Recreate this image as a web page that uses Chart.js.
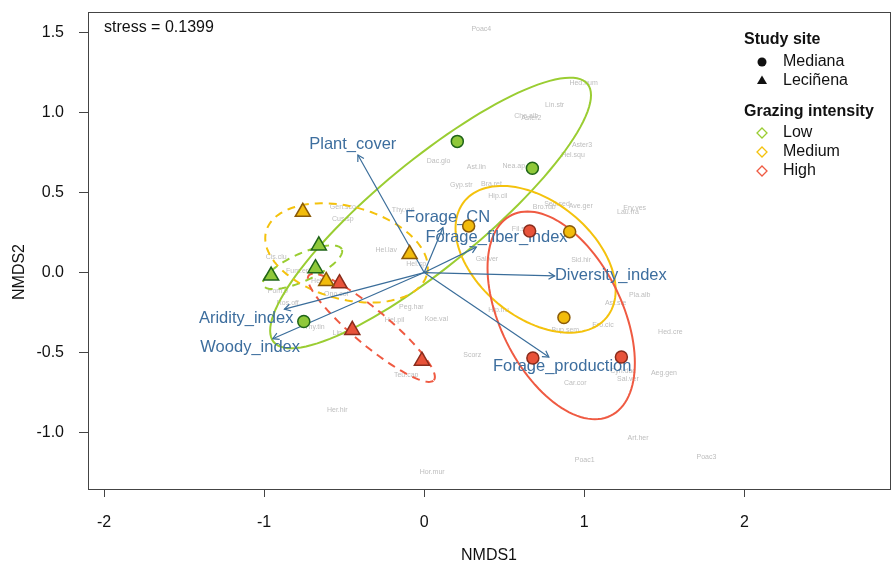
<!DOCTYPE html>
<html>
<head>
<meta charset="utf-8">
<script src="https://cdn.jsdelivr.net/npm/chart.js@4.4.1/dist/chart.umd.min.js"></script>
<style>
  body { margin: 0; background: #fff; }
</style>
</head>
<body>
<canvas id="nmds" width="892" height="569"></canvas>
<script>
"use strict";

// axis ticks
var xTicks = [-2, -1, 0, 1, 2];
var yTicks = [-1.0, -0.5, 0.0, 0.5, 1.0, 1.5];

// site scores [NMDS1, NMDS2], by grazing intensity and study site
var lowMediana = [[0.207, 0.821], [0.676, 0.653], [-0.752, -0.306]];
var lowLecinena = [[-0.658, 0.169], [-0.679, 0.026], [-0.956, -0.020]];
var medMediana = [[0.278, 0.292], [0.909, 0.256], [0.873, -0.281]];
var medLecinena = [[-0.758, 0.379], [-0.091, 0.115], [-0.612, -0.054]];
var highMediana = [[0.659, 0.260], [0.679, -0.535], [1.232, -0.529]];
var highLecinena = [[-0.529, -0.068], [-0.449, -0.360], [-0.014, -0.553]];

// dispersion ellipses: [centre x, centre y, semi-axis a, semi-axis b, angle deg]
var ellLowMediana = [0.04, 0.373, 1.27, 0.33, 39.5];
var ellLowLecinena = [-0.76, 0.033, 0.27, 0.085, 24.7];
var ellMedMediana = [0.696, 0.083, 0.574, 0.363, -39.3];
var ellMedLecinena = [-0.485, 0.123, 0.52, 0.29, -15];
var ellHighMediana = [0.856, -0.268, 0.70, 0.38, -63.8];
var ellHighLecinena = [-0.33, -0.346, 0.51, 0.11, -40];

// fitted environmental vectors (envfit)
var vectorNames = ["Plant_cover", "Forage_CN", "Forage_fiber_index", "Diversity_index",
    "Forage_production", "Aridity_index", "Woody_index"];
var vectorX = [-0.414, 0.117, 0.326, 0.815, 0.779, -0.873, -0.946];
var vectorY = [0.736, 0.281, 0.159, -0.021, -0.529, -0.229, -0.414];
var vectorLabelX = [-0.446, 0.146, 0.452, 1.166, 0.862, -1.112, -1.087];
var vectorLabelY = [0.804, 0.347, 0.217, -0.021, -0.588, -0.285, -0.466];

// species scores
var speciesNames = ["Poac4", "Hed.hum", "Lin.str", "Che.alb", "Aster2", "Aster3", "Hel.squ",
    "Dac.glo", "Ast.lin", "Nea.ap", "Gen.sco", "Cus.sp", "Thy.vul", "Gyp.str", "Cis.clu",
    "Hel.lav", "Fum.eri", "Hel.sp", "Hel.hir", "Pom.p", "Ono.col", "Ros.off", "Peg.har",
    "Koe.val", "Hel.pil", "Thy.tin", "Bra.ret", "Hip.cil", "Bro.rub", "Sed.sed", "Ave.ger",
    "Ery.ves", "Lau.fra", "Fil.sp", "Gal.ver", "Sid.hir", "Pla.alb", "Ast.ste", "Hip.fru",
    "Ero.cic", "Bup.sem", "Hed.cre", "Scorz", "Cyn.dac", "Sal.ver", "Aeg.gen", "Car.cor",
    "Art.her", "Poac1", "Poac3", "Lin.suf", "Teu.cap", "Her.hir", "Hor.mur"];
var speciesX = [0.357, 0.996, 0.815, 0.638, 0.669, 0.986, 0.930,
    0.090, 0.326, 0.560, -0.508, -0.508, -0.133, 0.232, -0.924,
    -0.237, -0.789, -0.050, -0.643, -0.914, -0.550, -0.852, -0.080,
    0.076, -0.185, -0.685, 0.420, 0.460, 0.750, 0.830, 0.978,
    1.315, 1.273, 0.600, 0.392, 0.980, 1.346, 1.196, 0.465,
    1.117, 0.882, 1.538, 0.300, 1.242, 1.273, 1.498, 0.944,
    1.336, 1.003, 1.763, -0.508, -0.112, -0.543, 0.050];
var speciesY = [1.523, 1.184, 1.050, 0.979, 0.965, 0.796, 0.734,
    0.700, 0.659, 0.667, 0.413, 0.336, 0.392, 0.548, 0.096,
    0.142, 0.011, 0.055, -0.056, -0.114, -0.133, -0.188, -0.219,
    -0.289, -0.300, -0.340, 0.554, 0.480, 0.410, 0.430, 0.419,
    0.406, 0.377, 0.270, 0.086, 0.079, -0.144, -0.190, -0.233,
    -0.331, -0.358, -0.375, -0.514, -0.619, -0.664, -0.629, -0.691,
    -1.035, -1.171, -1.154, -0.379, -0.644, -0.858, -1.248];

var FONT = "'Liberation Sans', Arial, sans-serif";
var GREEN = "#9ACD32", GOLD = "#F4C20D", RED = "#EF5A42";
var ARROW = "#3A6D9A";

function toPoints(arr) {
    return arr.map(function (p) { return { x: p[0], y: p[1] }; });
}

function siteSet(arr, fill, border, shape) {
    return {
        data: toPoints(arr),
        pointStyle: shape,
        pointRadius: shape === "triangle" ? 8.7 : 6,
        pointBackgroundColor: fill,
        pointBorderColor: border,
        pointBorderWidth: 1.5,
        showLine: false
    };
}

var datasets = [
    siteSet(lowMediana, "#8FC83A", "#1F6418", "circle"),
    siteSet(lowLecinena, "#8FC83A", "#1F6418", "triangle"),
    siteSet(medMediana, "#F2BC0C", "#8A5A08", "circle"),
    siteSet(medLecinena, "#F2BC0C", "#8A5A08", "triangle"),
    siteSet(highMediana, "#E8533A", "#8A2C1C", "circle"),
    siteSet(highLecinena, "#E8533A", "#8A2C1C", "triangle")
];
vectorNames.forEach(function (name, i) {
    datasets.push({
        data: [{ x: 0, y: 0 }, { x: vectorX[i], y: vectorY[i] }],
        showLine: true,
        borderColor: ARROW,
        borderWidth: 1.2,
        pointRadius: 0,
        isVector: true
    });
});

var ellipses = [
    { p: ellLowMediana, color: GREEN, dash: [] },
    { p: ellLowLecinena, color: GREEN, dash: [8, 6] },
    { p: ellMedMediana, color: GOLD, dash: [] },
    { p: ellMedLecinena, color: GOLD, dash: [8, 6] },
    { p: ellHighMediana, color: RED, dash: [] },
    { p: ellHighLecinena, color: RED, dash: [8, 6] }
];

function noPadding(s) {
    s.paddingTop = 0;
    s.paddingBottom = 0;
    s.paddingLeft = 0;
    s.paddingRight = 0;
}

var ordiPlugin = {
    id: "ordi",
    beforeDatasetsDraw: function (chart) {
        var ctx = chart.ctx, sx = chart.scales.x, sy = chart.scales.y, area = chart.chartArea;
        ctx.save();
        ctx.beginPath();
        ctx.rect(area.left, area.top, area.right - area.left, area.bottom - area.top);
        ctx.clip();

        // species names
        ctx.font = "7px " + FONT;
        ctx.fillStyle = "#BDBDBD";
        ctx.textAlign = "center";
        ctx.textBaseline = "middle";
        speciesNames.forEach(function (n, i) {
            ctx.fillText(n, sx.getPixelForValue(speciesX[i]), sy.getPixelForValue(speciesY[i]));
        });

        // ellipses
        ellipses.forEach(function (e) {
            var cx = e.p[0], cy = e.p[1], a = e.p[2], b = e.p[3], th = e.p[4] * Math.PI / 180;
            ctx.beginPath();
            for (var k = 0; k <= 120; k++) {
                var t = k / 120 * 2 * Math.PI;
                var dx = a * Math.cos(t), dy = b * Math.sin(t);
                var x = cx + dx * Math.cos(th) - dy * Math.sin(th);
                var y = cy + dx * Math.sin(th) + dy * Math.cos(th);
                var px = sx.getPixelForValue(x), py = sy.getPixelForValue(y);
                if (k === 0) ctx.moveTo(px, py); else ctx.lineTo(px, py);
            }
            ctx.closePath();
            ctx.strokeStyle = e.color;
            ctx.lineWidth = 2;
            ctx.setLineDash(e.dash);
            ctx.stroke();
        });
        ctx.setLineDash([]);

        // vector labels
        ctx.font = "16.5px " + FONT;
        ctx.fillStyle = "#3D6E9E";
        vectorNames.forEach(function (n, i) {
            ctx.fillText(n, sx.getPixelForValue(vectorLabelX[i]), sy.getPixelForValue(vectorLabelY[i]));
        });
        ctx.restore();
    },
    afterDatasetDraw: function (chart, args) {
        var ds = chart.data.datasets[args.index];
        if (!ds.isVector) return;
        var p0 = args.meta.data[0], p1 = args.meta.data[1];
        var ang = Math.atan2(p1.y - p0.y, p1.x - p0.x), len = 7, spread = Math.PI / 6;
        var ctx = chart.ctx;
        ctx.save();
        ctx.strokeStyle = ARROW;
        ctx.lineWidth = 1.2;
        ctx.beginPath();
        ctx.moveTo(p1.x - len * Math.cos(ang - spread), p1.y - len * Math.sin(ang - spread));
        ctx.lineTo(p1.x, p1.y);
        ctx.lineTo(p1.x - len * Math.cos(ang + spread), p1.y - len * Math.sin(ang + spread));
        ctx.stroke();
        ctx.restore();
    },
    afterDraw: function (chart) {
        var ctx = chart.ctx, area = chart.chartArea;
        ctx.save();
        // plot box
        ctx.strokeStyle = "#444";
        ctx.lineWidth = 1;
        ctx.strokeRect(Math.round(area.left) + 0.5, Math.round(area.top) + 0.5,
            Math.round(area.right - area.left), Math.round(area.bottom - area.top));

        ctx.fillStyle = "#111";
        ctx.textBaseline = "middle";
        ctx.textAlign = "left";
        ctx.font = "16px " + FONT;
        ctx.fillText("stress = 0.1399", 104, 28);

        // y title
        ctx.save();
        ctx.translate(20, 272);
        ctx.rotate(-Math.PI / 2);
        ctx.textAlign = "center";
        ctx.fillText("NMDS2", 0, 0);
        ctx.restore();

        // legend
        ctx.font = "bold 16px " + FONT;
        ctx.fillText("Study site", 744, 40);
        ctx.fillText("Grazing intensity", 744, 112);
        ctx.font = "16px " + FONT;
        ctx.fillText("Mediana", 783, 62);
        ctx.fillText("Leciñena", 783, 81);
        ctx.beginPath();
        ctx.arc(762, 62, 4.5, 0, 2 * Math.PI);
        ctx.fill();
        ctx.beginPath();
        ctx.moveTo(762, 75.5);
        ctx.lineTo(767, 84);
        ctx.lineTo(757, 84);
        ctx.closePath();
        ctx.fill();
        [["Low", GREEN, 133], ["Medium", GOLD, 152], ["High", RED, 171]].forEach(function (it) {
            ctx.fillStyle = "#111";
            ctx.fillText(it[0], 783, it[2]);
            ctx.strokeStyle = it[1];
            ctx.lineWidth = 1.3;
            ctx.beginPath();
            ctx.moveTo(762, it[2] - 5);
            ctx.lineTo(767, it[2]);
            ctx.lineTo(762, it[2] + 5);
            ctx.lineTo(757, it[2]);
            ctx.closePath();
            ctx.stroke();
        });
        ctx.restore();
    }
};

new Chart(document.getElementById("nmds"), {
    type: "scatter",
    data: { datasets: datasets },
    options: {
        responsive: false,
        animation: false,
        devicePixelRatio: 1,
        layout: { autoPadding: false, padding: { top: 12, right: 2, left: 0, bottom: 0 } },
        plugins: { legend: { display: false }, tooltip: { enabled: false } },
        scales: {
            x: {
                type: "linear",
                min: -2.10,
                max: 2.91,
                afterBuildTicks: function (s) { s.ticks = xTicks.map(function (v) { return { value: v }; }); },
                afterFit: function (s) { s.height = 80; noPadding(s); },
                grid: { drawOnChartArea: false, tickLength: 8, color: "#444" },
                border: { display: false },
                ticks: {
                    font: { size: 16, family: FONT }, color: "#111", padding: 16, maxRotation: 0,
                    callback: function (v) { return String(v); }
                },
                title: {
                    display: true, text: "NMDS1", color: "#111",
                    font: { size: 16, family: FONT }, padding: { top: 0, bottom: 4 }
                }
            },
            y: {
                type: "linear",
                min: -1.355,
                max: 1.631,
                afterBuildTicks: function (s) { s.ticks = yTicks.map(function (v) { return { value: v }; }); },
                afterFit: function (s) { s.width = 88; noPadding(s); },
                grid: { drawOnChartArea: false, tickLength: 9, color: "#444" },
                border: { display: false },
                ticks: {
                    font: { size: 16, family: FONT }, color: "#111", padding: 15,
                    callback: function (v) { return Number(v).toFixed(1); }
                }
            }
        }
    },
    plugins: [ordiPlugin]
});
</script>
</body>
</html>
